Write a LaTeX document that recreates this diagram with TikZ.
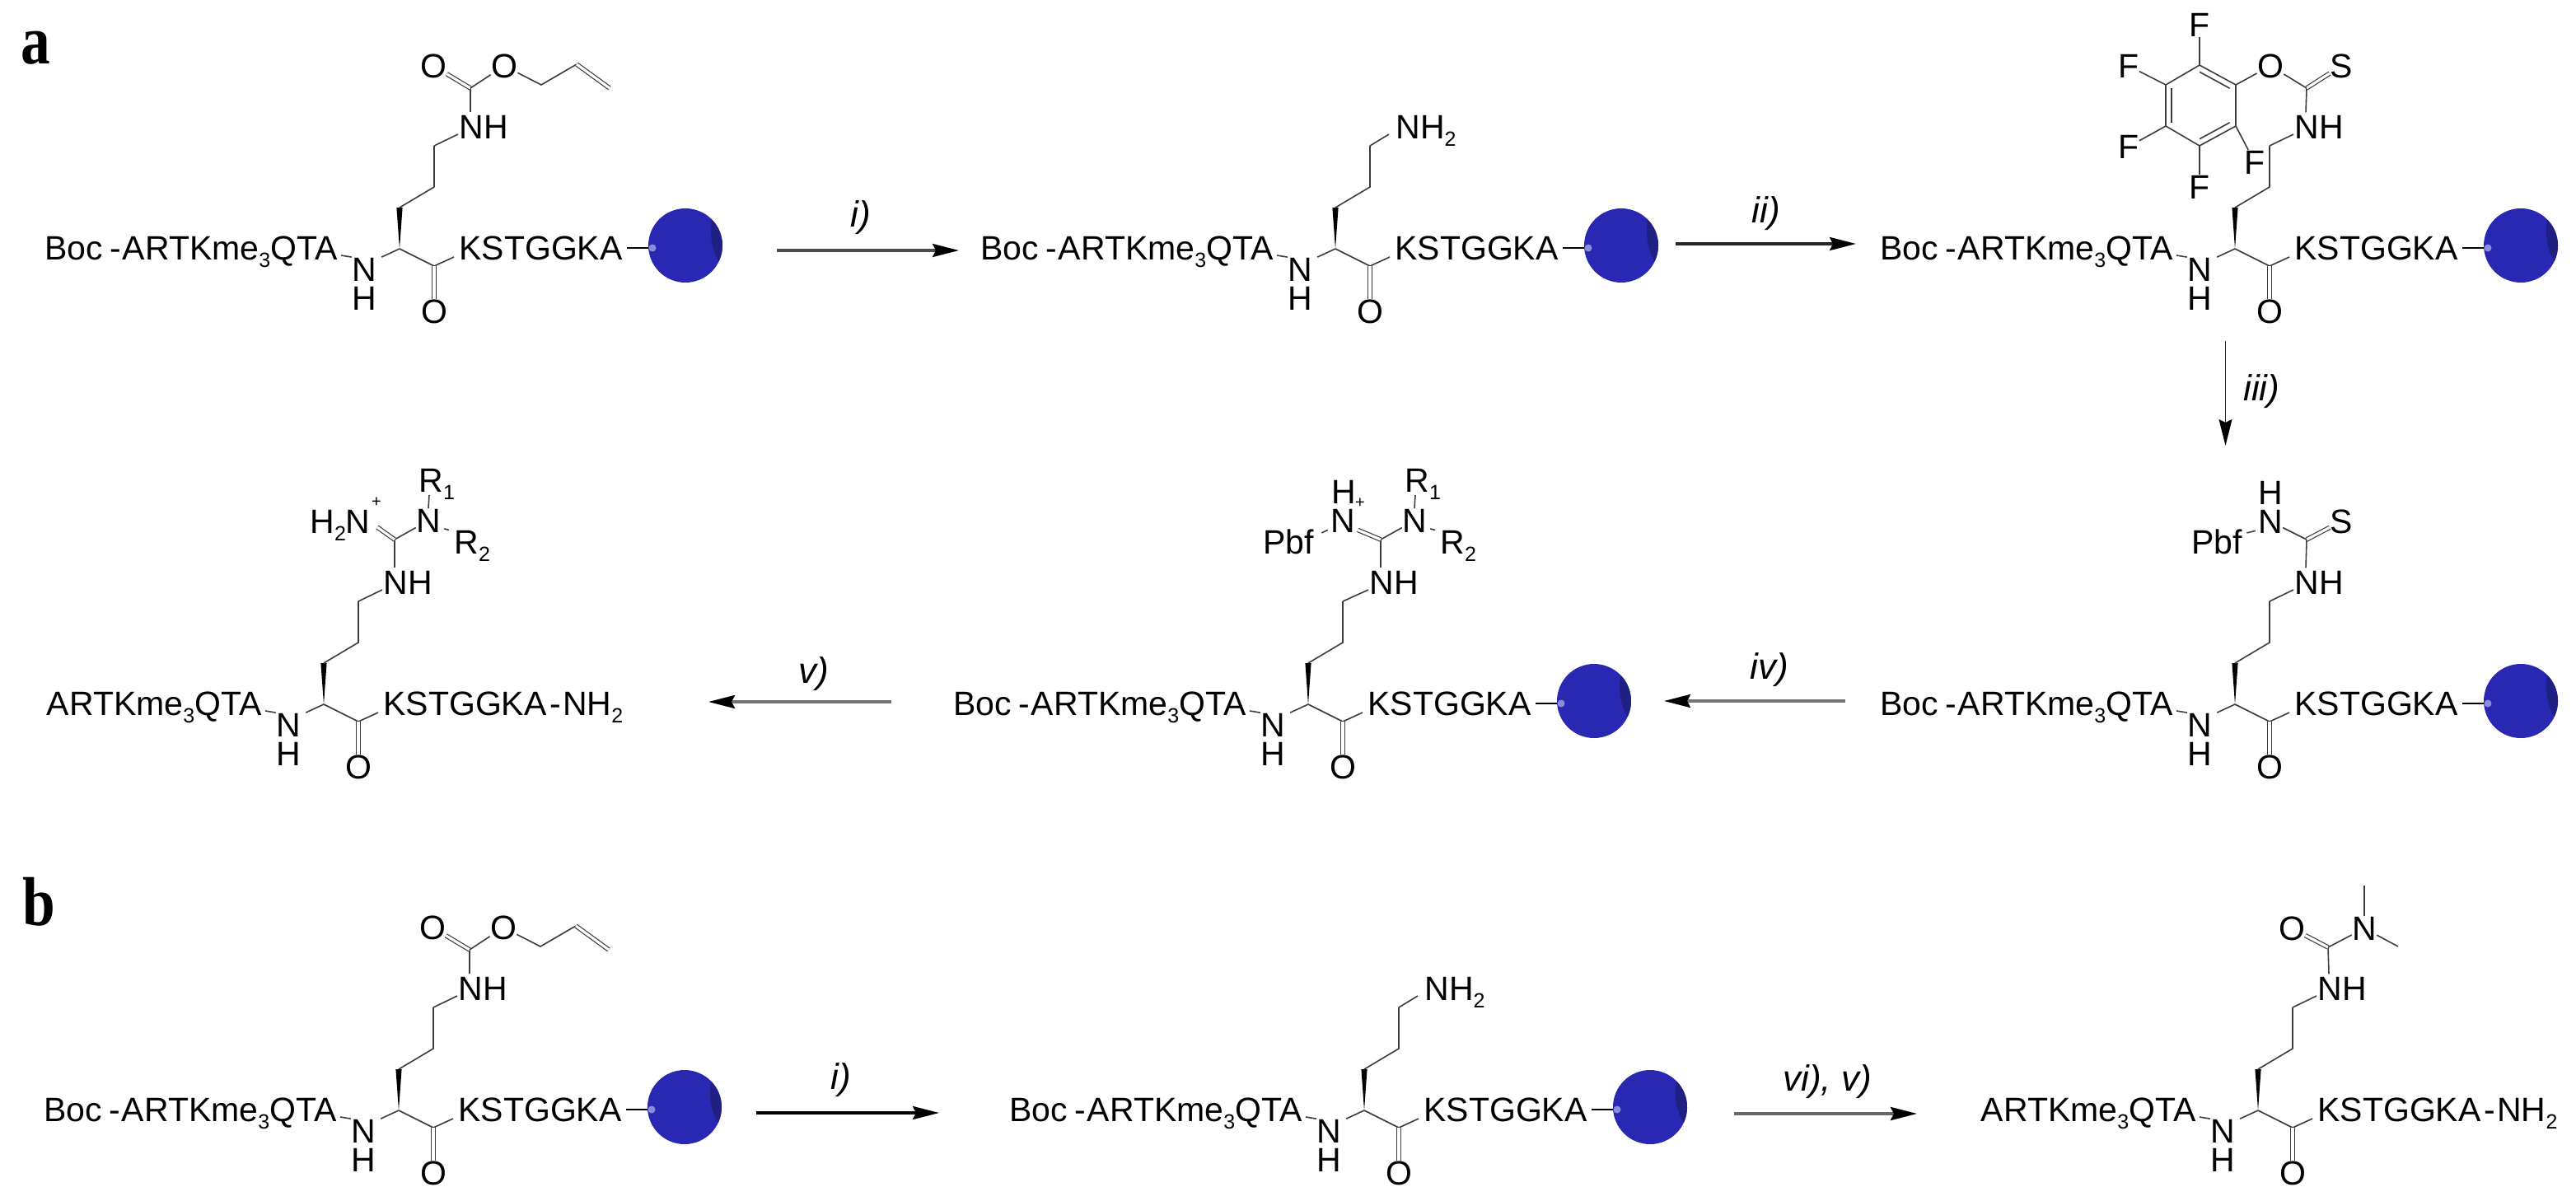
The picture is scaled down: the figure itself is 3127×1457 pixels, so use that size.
\documentclass[tikz,border=0pt]{standalone}
\usepackage{fontspec}
\setmainfont{Liberation Sans}
\newfontfamily\panelfont{Liberation Serif}
\usetikzlibrary{arrows.meta,calc}
\definecolor{beadblue}{RGB}{41,40,178}
\definecolor{beaddark}{RGB}{31,32,130}
\definecolor{beadspot}{RGB}{140,140,220}
\definecolor{bondgrey}{RGB}{60,60,60}
\newcommand\subs[1]{\raisebox{-4.5pt}{\fontsize{12.5}{14}\selectfont #1}}
\newcommand\bocpep{Boc\kern4pt-\kern1pt ARTKme\subs{3}QTA}
\newcommand\freepep{ARTKme\subs{3}QTA}
\newcommand\amidetail{KSTGGKA\kern2pt-\kern1pt NH\subs{2}}
\tikzset{
  lab/.style={inner sep=0pt,font=\fontsize{20.5}{24}\selectfont},
  atom/.style={lab,text height=14.5pt,text depth=0pt},
  plus/.style={inner sep=0pt,font=\fontsize{10}{12}\selectfont},
  cond/.style={inner sep=0pt,font=\fontsize{22}{26}\selectfont\itshape},
  panel/.style={inner sep=0pt,anchor=base west,font=\fontsize{42}{46}\panelfont\bfseries},
  bnd/.style={draw=bondgrey,line width=.8pt},
  dbl/.style={draw=bondgrey,line width=.6pt,double=white,double distance=1.6pt},
  beadnode/.style={circle,fill=beadblue,draw=none,inner sep=0pt,minimum size=45pt},
  spotnode/.style={circle,fill=beadspot,draw=none,inner sep=0pt,minimum size=4.5pt},
  rxn/.style={line width=#1,-{Stealth[length=16pt,width=8pt,inset=2pt,color=black,fill=black]}},
  rxn/.default=1.6pt
}
% backbone: prefix, x, y, left text, right text, end group
\newcommand\pep[6]{\begin{scope}[shift={(#2,#3)}]
  \coordinate (#1ca) at (0,0);
  \coordinate (#1cb) at (0,-50);
  \coordinate (#1cg) at (42,-75);
  \coordinate (#1cd) at (42,-125);
  \coordinate (#1co) at (42,21);
  \node[lab,anchor=base east] (#1L) at (-75,13) {#4};
  \node[atom] (#1N) at (-43,25) {N};
  \node[atom] (#1H) at (-43,60) {H};
  \node[atom] (#1O) at (42,76) {O};
  \node[lab,anchor=base west] (#1K) at (72,13) {#5};
  \fill[black] (#1ca) -- ([xshift=-1.8pt]#1cb) -- ([xshift=1.8pt]#1cb) -- cycle;
  \draw[bnd] (#1cb) -- (#1cg) -- (#1cd);
  \draw[bnd] (#1ca) -- ([xshift=3pt]#1N.north east);
  \draw[bnd] ([xshift=2pt,yshift=2.5pt]#1L.base east) -- (#1N.north west);
  \draw[bnd] (#1ca) -- (#1co) -- ([xshift=-3pt,yshift=1.5pt]#1K.base west);
  \draw[dbl] (#1co) -- (#1O);
  #6
\end{scope}}
\newcommand\beadgroup[1]{%
  \node[beadnode] (#1bead) at (347,-4) {};
  \begin{scope}
    \clip (#1bead.center) circle (22.5pt);
    \fill[beaddark] (400,-38) -- (400,14) -- (387,14) .. controls (379,1) and (375,-22) .. (380,-38) -- cycle;
  \end{scope}
  \node[spotnode] (#1spot) at (307,-1) {};
  \draw[black,line width=.9pt] ([xshift=2.5pt,yshift=7pt]#1K.base east) -- (#1spot);
}
\newcommand\nhgroup[1]{%
  \node[lab,anchor=base west] (#1nh) at (72,-134) {NH};
  \draw[bnd] (#1cd) -- ([xshift=-.5pt,yshift=2.5pt]#1nh.base west);
}
\newcommand\nhtwogroup[1]{%
  \node[lab,anchor=base west] (#1nh) at (73,-134) {NH\subs{2}};
  \draw[bnd] (#1cd) -- ([xshift=-4pt,yshift=2.5pt]#1nh.base west);
}
\newcommand\allocgroup[1]{%
  \nhgroup{#1}
  \coordinate (#1C) at (86,-195);
  \node[atom] (#1Oa) at (41,-222) {O};
  \node[atom] (#1Ob) at (127,-222) {O};
  \coordinate (#1al) at (172,-199);
  \coordinate (#1am) at (215,-224);
  \coordinate (#1an) at (255,-195);
  \draw[bnd] (#1C) -- ([xshift=7pt,yshift=1.5pt]#1nh.north west);
  \draw[dbl] (#1C) -- (#1Oa);
  \draw[bnd] (#1C) -- (#1Ob);
  \draw[bnd] (#1Ob) -- (#1al) -- (#1am);
  \draw[dbl] (#1am) -- (#1an);
}
\newcommand\pfpgroup[1]{%
  \nhgroup{#1}
  \coordinate (#1C) at (87,-195);
  \node[atom] (#1Ox) at (43,-222) {O};
  \node[atom] (#1S) at (129,-222) {S};
  \coordinate (#1ra) at (1,-199);
  \coordinate (#1rb) at (-43,-223);
  \coordinate (#1rc) at (-84,-199);
  \coordinate (#1rd) at (-84,-149);
  \coordinate (#1re) at (-43,-125);
  \coordinate (#1rf) at (1,-149);
  \coordinate (#1rm) at (-42,-174);
  \node[atom] (#1Fa) at (-43,-272) {F};
  \node[atom] (#1Fb) at (-129,-222) {F};
  \node[atom] (#1Fc) at (-129,-124) {F};
  \node[atom] (#1Fd) at (-43,-75) {F};
  \node[atom] (#1Fe) at (24,-105) {F};
  \draw[bnd] (#1C) -- ([xshift=7pt,yshift=1.5pt]#1nh.north west);
  \draw[dbl] (#1C) -- (#1S);
  \draw[bnd] (#1C) -- (#1Ox);
  \draw[bnd] (#1Ox) -- (#1ra);
  \draw[bnd] (#1ra) -- (#1rb) -- (#1rc) -- (#1rd) -- (#1re) -- (#1rf) -- cycle;
  \draw[bnd] ($(#1ra)!.17!(#1rm)$) -- ($(#1rb)!.17!(#1rm)$);
  \draw[bnd] ($(#1rc)!.17!(#1rm)$) -- ($(#1rd)!.17!(#1rm)$);
  \draw[bnd] ($(#1re)!.17!(#1rm)$) -- ($(#1rf)!.17!(#1rm)$);
  \draw[bnd] (#1rb) -- (#1Fa);
  \draw[bnd] (#1rc) -- (#1Fb);
  \draw[bnd] (#1rd) -- (#1Fc);
  \draw[bnd] (#1re) -- (#1Fd);
  \draw[bnd] (#1rf) -- (#1Fe);
}
\newcommand\thiogroup[1]{%
  \nhgroup{#1}
  \coordinate (#1C) at (87,-200);
  \node[atom] (#1S) at (129,-222) {S};
  \node[atom] (#1Nx) at (43,-222) {N};
  \node[atom] (#1Hx) at (43,-257) {H};
  \node[lab,anchor=base west] (#1P) at (-53,-183) {Pbf};
  \draw[bnd] (#1C) -- ([xshift=7pt,yshift=1.5pt]#1nh.north west);
  \draw[dbl] (#1C) -- (#1S);
  \draw[bnd] (#1C) -- (#1Nx);
  \draw[bnd] ([xshift=2.5pt,yshift=-2.5pt]#1P.north east) -- ([xshift=-1.5pt,yshift=1.75pt]#1Nx.south west);
}
\newcommand\guangroup[1]{%
  \nhgroup{#1}
  \coordinate (#1C) at (86,-200);
  \node[atom] (#1Nr) at (127,-223) {N};
  \node[lab,anchor=base west] (#1Ra) at (115,-258) {R\subs{1}};
  \node[lab,anchor=base west] (#1Rb) at (158,-183) {R\subs{2}};
  \draw[bnd] (#1C) -- ([xshift=7pt,yshift=1.5pt]#1nh.north west);
  \draw[bnd] (#1C) -- (#1Nr);
  \draw[bnd] (#1Nr.north) -- ([xshift=6.5pt,yshift=-2pt]#1Ra.base west);
  \draw[bnd] ([xshift=2pt,yshift=2.5pt]#1Nr.south east) -- ([xshift=-3pt]#1Rb.north west);
}
\begin{document}
\begin{tikzpicture}[x=.5pt,y=-.5pt]
\path[use as bounding box] (0,0) rectangle (3127,1457);
\node[panel] (pa) at (25,77) {\scalebox{.85}[1]{a}};
\node[panel] (pb) at (27,1123) {\scalebox{.85}[1]{b}};

% row 1
\pep{s}{485}{302}{\bocpep}{KSTGGKA}{\beadgroup{s}\allocgroup{s}}
\pep{t}{1621}{302}{\bocpep}{KSTGGKA}{\beadgroup{t}\nhtwogroup{t}}
\pep{u}{2713}{302}{\bocpep}{KSTGGKA}{\beadgroup{u}\pfpgroup{u}}

% row 2
\pep{v}{393}{855}{\freepep}{\amidetail}{%
  \guangroup{v}
  \node[lab,anchor=base west] (vHt) at (-17,-208) {H\subs{2}N};
  \node[plus] (vpl) at (64,-245) {+};
  \draw[dbl] (vC) -- ([xshift=4pt,yshift=3.5pt]vHt.base east);
}
\pep{w}{1588}{855}{\bocpep}{KSTGGKA}{%
  \beadgroup{w}
  \begin{scope}[shift={(2,0)}]\guangroup{w}\end{scope}
  \node[atom] (wNl) at (42,-223) {N};
  \node[atom] (wHl) at (43,-258) {H};
  \node[plus] (wpl) at (63,-244) {+};
  \node[lab,anchor=base west] (wP) at (-55,-183) {Pbf};
  \draw[dbl] (wC) -- ([xshift=1.5pt,yshift=1.75pt]wNl.south east);
  \draw[bnd] ([xshift=4.5pt,yshift=-2.5pt]wP.north east) -- ([xshift=-1.5pt,yshift=1.75pt]wNl.south west);
}
\pep{x}{2713}{855}{\bocpep}{KSTGGKA}{\beadgroup{x}\thiogroup{x}}

% row 3
\pep{y}{484}{1348}{\bocpep}{KSTGGKA}{\beadgroup{y}\allocgroup{y}}
\pep{z}{1656}{1348}{\bocpep}{KSTGGKA}{\beadgroup{z}\nhtwogroup{z}}
\pep{q}{2741}{1348}{\freepep}{\amidetail}{%
  \nhgroup{q}
  \coordinate (qC) at (85,-198);
  \node[atom] (qOu) at (41,-221) {O};
  \node[atom] (qNu) at (129,-221) {N};
  \coordinate (qMa) at (129,-273);
  \coordinate (qMb) at (170,-199);
  \draw[bnd] (qC) -- ([xshift=7pt,yshift=1.5pt]qnh.north west);
  \draw[dbl] (qC) -- (qOu);
  \draw[bnd] (qC) -- (qNu);
  \draw[bnd] (qNu) -- (qMa);
  \draw[bnd] (qNu) -- (qMb);
}

% reaction arrows
\coordinate (a1s) at (943,304);  \coordinate (a1e) at (1164,304);
\coordinate (a2s) at (2034,296); \coordinate (a2e) at (2253,296);
\coordinate (a3s) at (2701.5,414); \coordinate (a3e) at (2701.5,541);
\coordinate (a4s) at (2240,851); \coordinate (a4e) at (2020,851);
\coordinate (a5s) at (1082,852); \coordinate (a5e) at (860,852);
\coordinate (a6s) at (918,1351); \coordinate (a6e) at (1140,1351);
\coordinate (a7s) at (2105,1352); \coordinate (a7e) at (2327,1352);
\draw[rxn,draw=black!70] (a1s) -- (a1e);
\draw[rxn,draw=black!85] (a2s) -- (a2e);
\draw[rxn=.8pt,draw=black!85] (a3s) -- (a3e);
\draw[rxn,draw=black!55] (a4s) -- (a4e);
\draw[rxn=1.8pt,draw=black!55] (a5s) -- (a5e);
\draw[rxn,draw=black] (a6s) -- (a6e);
\draw[rxn=1.8pt,draw=black!60] (a7s) -- (a7e);
\node[cond,anchor=base] (c1) at (1045,275) {i)};
\node[cond,anchor=base] (c2) at (2144,270) {ii)};
\node[cond,anchor=base west] (c3) at (2723,486) {iii)};
\node[cond,anchor=base] (c4) at (2148,824) {iv)};
\node[cond,anchor=base] (c5) at (988,829) {v)};
\node[cond,anchor=base] (c6) at (1021,1322) {i)};
\node[cond,anchor=base west] (c7) at (2164,1324) {vi), v)};
\end{tikzpicture}
\end{document}
